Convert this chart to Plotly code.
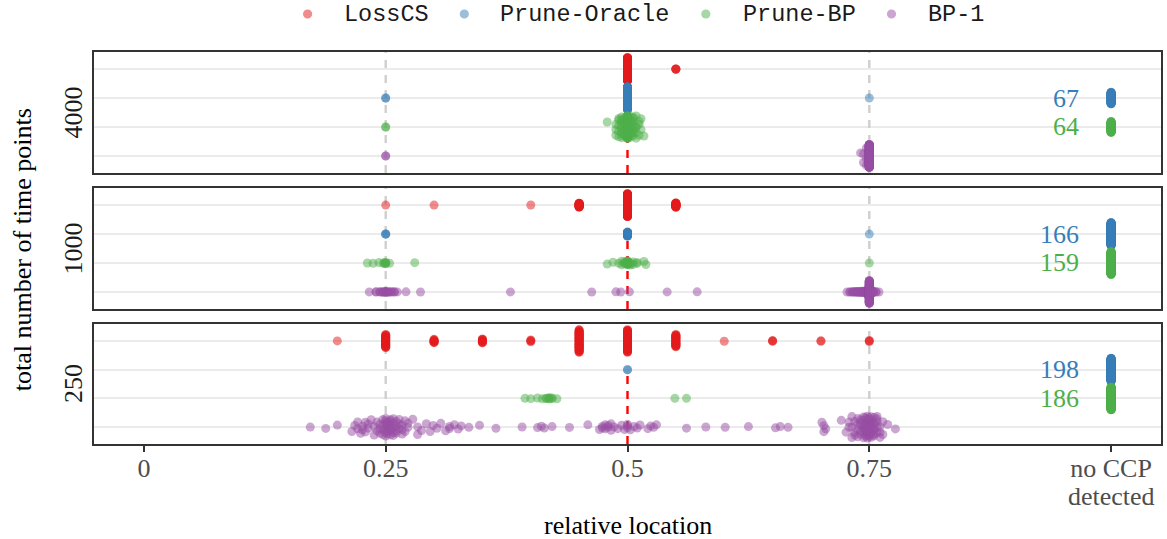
import numpy as np
import plotly.graph_objects as go

# ---------------------------------------------------------------- data
NO_CCP = 1.0  # x position used for "no CCP detected"

methods = ["LossCS", "Prune-Oracle", "Prune-BP", "BP-1"]
colors = ["#E41A1C", "#377EB8", "#4DAF4A", "#984EA3"]
method_rows = [4, 3, 2, 1]
panel_labels = ["4000", "1000", "250"]
x_tick_vals = [0, 0.25, 0.5, 0.75, NO_CCP]
x_tick_text = ["0", "0.25", "0.5", "0.75", "no CCP"]
no_ccp_second_line = "detected"

# (relative location of detected CCP, number of replications)
losscs_4000 = [(0.5, 196), (0.55, 4)]
oracle_4000 = [(0.25, 2), (0.5, 130), (0.75, 1), (NO_CCP, 67)]
prunebp_4000 = [(0.25, 2), (0.479, 1), (0.488, 3), (0.491, 5), (0.494, 8),
                (0.497, 10), (0.5, 78), (0.503, 10), (0.506, 8), (0.509, 5),
                (0.512, 3), (0.514, 2), (0.517, 1), (NO_CCP, 64)]
bp1_4000 = [(0.25, 2), (0.741, 1), (0.744, 2), (0.747, 3), (0.75, 192)]

losscs_1000 = [(0.25, 1), (0.3, 1), (0.4, 1), (0.45, 27), (0.5, 143), (0.55, 27)]
oracle_1000 = [(0.25, 3), (0.5, 30), (0.75, 1), (NO_CCP, 166)]
prunebp_1000 = [(0.231, 1), (0.237, 1), (0.243, 1), (0.248, 2), (0.25, 4),
                (0.254, 1), (0.28, 1), (0.479, 1), (0.485, 1), (0.491, 1),
                (0.494, 2), (0.497, 3), (0.5, 12), (0.503, 3), (0.506, 2),
                (0.51, 2), (0.517, 1), (0.519, 1), (0.75, 1), (NO_CCP, 159)]
bp1_1000 = [(0.233, 1), (0.240, 2), (0.244, 2), (0.247, 3), (0.25, 6),
            (0.253, 3), (0.256, 2), (0.259, 2), (0.262, 1), (0.271, 1),
            (0.286, 1), (0.379, 1), (0.463, 1), (0.488, 1), (0.493, 1),
            (0.502, 1), (0.541, 1), (0.572, 1), (0.727, 1), (0.730, 2),
            (0.733, 3), (0.736, 4), (0.739, 5), (0.742, 6), (0.745, 7),
            (0.748, 14), (0.750, 106), (0.752, 11), (0.754, 5), (0.757, 2),
            (0.760, 1)]

losscs_250 = [(0.2, 1), (0.25, 32), (0.3, 9), (0.35, 10), (0.4, 4), (0.45, 53),
              (0.5, 52), (0.55, 30), (0.6, 1), (0.65, 3), (0.7, 2), (0.75, 3)]
oracle_250 = [(0.5, 2), (NO_CCP, 198)]
prunebp_250 = [(0.394, 1), (0.400, 1), (0.407, 1), (0.412, 1), (0.416, 2),
               (0.419, 3), (0.422, 2), (0.427, 1), (0.549, 1), (0.561, 1),
               (NO_CCP, 186)]
bp1_250 = [(0.172, 1), (0.188, 1), (0.200, 1),
           (0.215, 1), (0.218, 1), (0.221, 2), (0.224, 1), (0.226, 2),
           (0.229, 2), (0.232, 2), (0.235, 1), (0.238, 2), (0.241, 2),
           (0.244, 3), (0.247, 4), (0.250, 6), (0.252, 5), (0.255, 6),
           (0.258, 5), (0.261, 4), (0.264, 3), (0.267, 3), (0.270, 2),
           (0.273, 2),
           (0.278, 1), (0.283, 2), (0.287, 1), (0.292, 1), (0.296, 1),
           (0.299, 1), (0.303, 1), (0.307, 1), (0.312, 1), (0.316, 2),
           (0.321, 1), (0.325, 1), (0.328, 1), (0.336, 1), (0.347, 1),
           (0.364, 1), (0.391, 1), (0.407, 1), (0.411, 1), (0.414, 1),
           (0.422, 1), (0.440, 1), (0.459, 1),
           (0.471, 1), (0.474, 2), (0.477, 2), (0.480, 2), (0.483, 2),
           (0.486, 1), (0.490, 1), (0.494, 1), (0.497, 1), (0.500, 3),
           (0.503, 1), (0.507, 1),
           (0.510, 1), (0.513, 1), (0.521, 1), (0.524, 1), (0.527, 1),
           (0.530, 1), (0.561, 1), (0.581, 1), (0.601, 1), (0.625, 1),
           (0.653, 1), (0.658, 1), (0.666, 1),
           (0.701, 1), (0.703, 2), (0.705, 1),
           (0.721, 1), (0.726, 1), (0.729, 2), (0.732, 3), (0.735, 3),
           (0.738, 4), (0.741, 5),
           (0.744, 6), (0.746, 7), (0.748, 8), (0.750, 9), (0.752, 8),
           (0.755, 7), (0.758, 5), (0.761, 3), (0.764, 2),
           (0.769, 1), (0.777, 1)]

panel_data = [
    [losscs_4000, oracle_4000, prunebp_4000, bp1_4000],
    [losscs_1000, oracle_1000, prunebp_1000, bp1_1000],
    [losscs_250, oracle_250, prunebp_250, bp1_250],
]

# ---------------------------------------------------------------- helpers
def expand(pairs):
    locs = np.array([p[0] for p in pairs], dtype=float)
    cnts = np.array([p[1] for p in pairs], dtype=int)
    return np.repeat(locs, cnts)


def van_der_corput(n):
    out = np.empty(n)
    for i in range(1, n + 1):
        v, denom, k = 0.0, 1.0, i
        while k:
            denom *= 2.0
            k, r = divmod(k, 2)
            v += r / denom
        out[i - 1] = v
    return out


def bw_nrd0(x):
    hi = np.std(x, ddof=1)
    q75, q25 = np.percentile(x, [75, 25])
    lo = min(hi, (q75 - q25) / 1.34)
    if lo <= 0:
        lo = hi if hi > 0 else 1.0
    return 0.9 * lo * len(x) ** (-0.2)


def quasirandom_offsets(x, width=0.4, adjust=0.5):
    """ggbeeswarm-style quasirandom spread (density scaled van der Corput)."""
    n = len(x)
    if n < 2:
        return np.zeros(n)
    bw = bw_nrd0(x) * adjust
    d = np.exp(-0.5 * ((x[:, None] - x[None, :]) / bw) ** 2).sum(axis=1)
    d = d / d.max()
    order = np.argsort(x, kind="stable")
    ranks = np.empty(n, dtype=int)
    ranks[order] = np.arange(n)
    v = van_der_corput(n)[ranks]
    return (v - 0.5) * 2.0 * d * width


# ---------------------------------------------------------------- layout geometry
W, H = 1167, 539
ML, MR, MT, MB = 94, 4, 52, 95
PW, PH = W - ML - MR, H - MT - MB
panel_px = [(52, 173), (188, 309), (324, 444)]  # top, bottom pixel rows


def px_to_paper_x(px):
    return (px - ML) / PW


def px_to_paper_y(py):
    return (H - MB - py) / PH


Y_RANGE = [0.41, 4.59]
X_RANGE = [-0.0516, 1.0516]

fig = go.Figure()

for p, datasets in enumerate(panel_data):
    xa = "x" if p == 0 else f"x{p + 1}"
    ya = "y" if p == 0 else f"y{p + 1}"
    for m, pairs in enumerate(datasets):
        xs = expand(pairs)
        ys = method_rows[m] + quasirandom_offsets(xs)
        fig.add_trace(go.Scatter(
            x=xs, y=ys, mode="markers", xaxis=xa, yaxis=ya,
            name=methods[m], legendgroup=methods[m], showlegend=False,
            hoverinfo="skip",
            marker=dict(color=colors[m], size=9, opacity=0.5, line=dict(width=0)),
        ))

axis_common = dict(showline=True, mirror=True, linecolor="#333333", linewidth=1.6,
                   zeroline=False)
tick_font = dict(family="Liberation Serif", size=26, color="#4D4D4D")
layout_axes = {}
for p in range(3):
    top, bot = panel_px[p]
    sx = "" if p == 0 else str(p + 1)
    ya = "y" + sx
    xa = "x" + sx
    layout_axes["yaxis" + sx] = dict(
        domain=[px_to_paper_y(bot), px_to_paper_y(top)], anchor=xa, range=Y_RANGE,
        tickvals=[1, 2, 3, 4], showticklabels=False, ticks="", showgrid=True,
        gridcolor="#EBEBEB", gridwidth=2, **axis_common)
    xdict = dict(domain=[0, 1], anchor=ya, range=X_RANGE, showgrid=False,
                 tickvals=x_tick_vals, ticktext=x_tick_text, **axis_common)
    if p < 2:
        xdict.update(showticklabels=False, ticks="")
        if p > 0:
            xdict["matches"] = "x"
    else:
        xdict.update(matches="x", ticks="outside", ticklen=6, tickwidth=2,
                     tickcolor="#333333", ticklabelstandoff=-6, tickfont=tick_font)
    layout_axes["xaxis" + sx] = xdict

shapes = []
for p in range(3):
    sx = "" if p == 0 else str(p + 1)
    for xv in (0.25, 0.75):
        shapes.append(dict(type="line", xref="x" + sx, yref="y" + sx, x0=xv, x1=xv,
                           y0=Y_RANGE[0], y1=Y_RANGE[1], layer="between",
                           line=dict(color="#CFCFCF", width=2.4, dash="8px,7px")))
    shapes.append(dict(type="line", xref="x" + sx, yref="y" + sx, x0=0.5, x1=0.5,
                       y0=Y_RANGE[0], y1=3, layer="between",
                       line=dict(color="#FF0000", width=2.4, dash="8px,7px")))

# legend drawn by hand to reproduce ggplot spacing
legend_marker_px = [308, 465, 707, 893]
legend_text_px = [342, 499, 742, 928]
legend_y_px = 14
for m in range(4):
    r, g, b = (int(colors[m][i:i + 2], 16) for i in (1, 3, 5))
    shapes.append(dict(type="circle", xref="paper", yref="paper",
                       xsizemode="pixel", ysizemode="pixel",
                       xanchor=px_to_paper_x(legend_marker_px[m]),
                       yanchor=px_to_paper_y(legend_y_px),
                       x0=-4.6, x1=4.6, y0=-4.6, y1=4.6,
                       fillcolor=f"rgba({r},{g},{b},0.5)", line=dict(width=0)))

annotations = []
for m in range(4):
    annotations.append(dict(text=methods[m], xref="paper", yref="paper",
                            x=px_to_paper_x(legend_text_px[m]),
                            y=px_to_paper_y(legend_y_px), xanchor="left",
                            yanchor="middle", showarrow=False,
                            font=dict(family="Liberation Mono", size=23.5,
                                      color="#1A1A1A")))

# second line of the "no CCP detected" tick label
annotations.append(dict(text=no_ccp_second_line, xref="x3", yref="paper",
                        x=NO_CCP, y=px_to_paper_y(496.5), xanchor="center",
                        yanchor="middle", showarrow=False, font=tick_font))

# panel (facet) labels
for p in range(3):
    top, bot = panel_px[p]
    annotations.append(dict(text=panel_labels[p], xref="paper", yref="paper",
                            x=px_to_paper_x(73), y=px_to_paper_y((top + bot) / 2),
                            textangle=-90, showarrow=False, xanchor="center",
                            yanchor="middle",
                            font=dict(family="Liberation Serif", size=26,
                                      color="#1A1A1A")))

# counts of "no CCP detected"
for p in range(3):
    sx = "" if p == 0 else str(p + 1)
    for m in (1, 2):
        n_none = sum(c for loc, c in panel_data[p][m] if loc == NO_CCP)
        annotations.append(dict(text=str(n_none), xref="x" + sx, yref="y" + sx,
                                x=0.969, y=method_rows[m], xanchor="right",
                                yanchor="middle", showarrow=False,
                                font=dict(family="Liberation Serif", size=26,
                                          color=colors[m])))

# axis titles
annotations.append(dict(text="relative location", xref="paper", yref="paper",
                        x=0.5, y=px_to_paper_y(525), xanchor="center",
                        yanchor="middle", showarrow=False,
                        font=dict(family="Liberation Serif", size=26, color="#000000")))
annotations.append(dict(text="total number of time points", xref="paper",
                        yref="paper", x=px_to_paper_x(23), y=px_to_paper_y(250),
                        textangle=-90, xanchor="center", yanchor="middle",
                        showarrow=False,
                        font=dict(family="Liberation Serif", size=26, color="#000000")))

fig.update_layout(
    width=W, height=H, margin=dict(l=ML, r=MR, t=MT, b=MB),
    plot_bgcolor="white", paper_bgcolor="white", showlegend=False,
    shapes=shapes, annotations=annotations, **layout_axes,
)

fig.write_html("out.html", config={"displayModeBar": False},
               post_script="document.body.style.margin='0px';")
